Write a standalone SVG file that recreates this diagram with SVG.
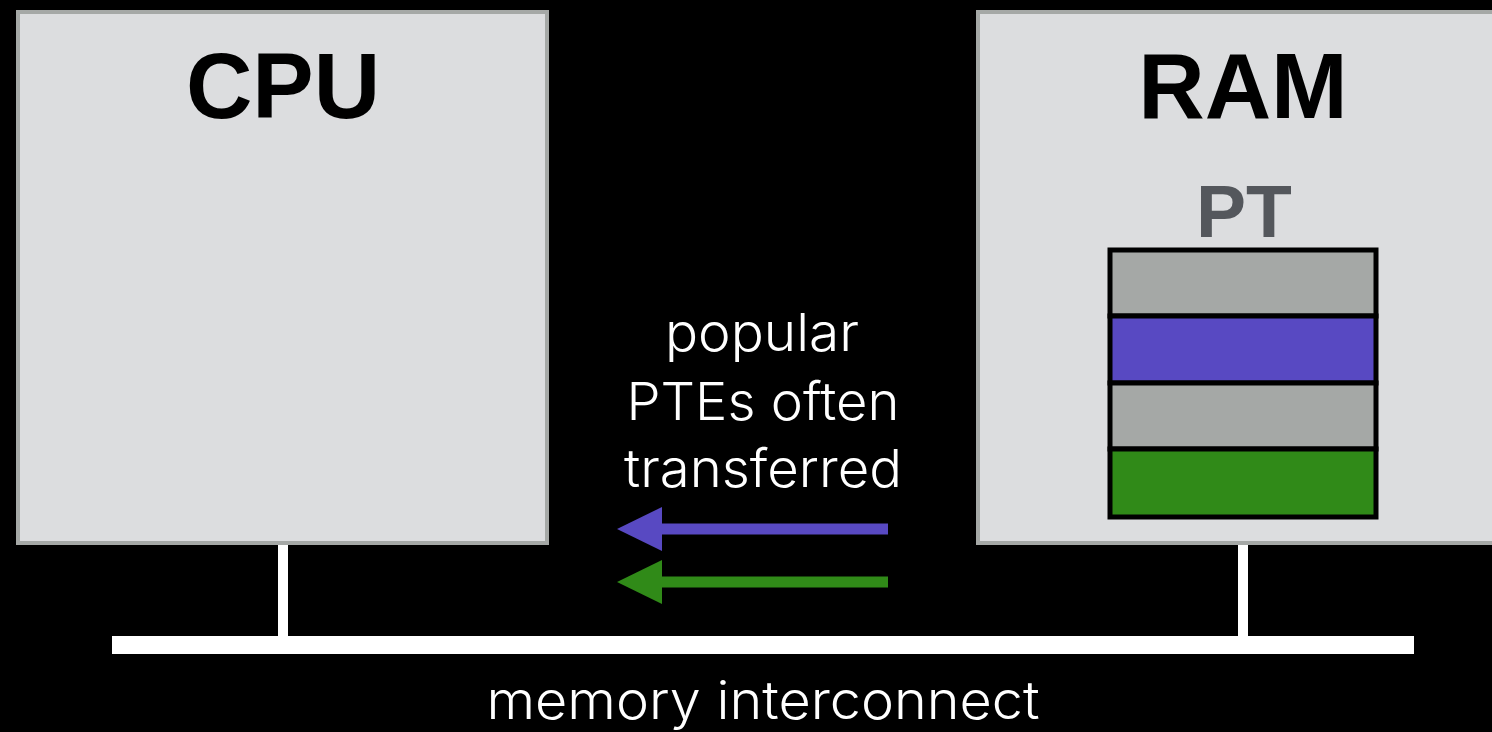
<svg xmlns="http://www.w3.org/2000/svg" width="1492" height="732" viewBox="0 0 1492 732">
  <style>
    .box { fill: #dcdddf; stroke: #a5a8a6; stroke-width: 4; }
    .title { font-family: "Liberation Sans", Arial, Helvetica, sans-serif; font-weight: bold; text-anchor: middle; }
    .label { font-family: Inter, "Liberation Sans", Arial, Helvetica, sans-serif; font-weight: 300; fill: #ffffff; text-anchor: middle; font-size: 52px; }
    .wire { stroke: #ffffff; stroke-width: 10; fill: none; }
    .pte { stroke: #000000; stroke-width: 5; }
    .gray { fill: #a5a8a6; }
    .purple { fill: #5849c2; }
    .green { fill: #308a18; }
  </style>
  <defs>
    <marker id="headPurple" markerUnits="userSpaceOnUse" markerWidth="45" markerHeight="44" viewBox="0 0 45 44" refX="0" refY="22" orient="auto">
      <path d="M0,0 L45,22 L0,44 z" fill="#5849c2"/>
    </marker>
    <marker id="headGreen" markerUnits="userSpaceOnUse" markerWidth="45" markerHeight="44" viewBox="0 0 45 44" refX="0" refY="22" orient="auto">
      <path d="M0,0 L45,22 L0,44 z" fill="#308a18"/>
    </marker>
  </defs>
  <rect x="0" y="0" width="1492" height="732" fill="#000000"/>

  <g id="cpu">
    <rect class="box" x="18" y="12" width="529" height="531"/>
    <text class="title" x="283" y="118" font-size="92" fill="#000000">CPU</text>
  </g>

  <g id="ram">
    <rect class="box" x="978" y="12" width="530" height="531"/>
    <text class="title" x="1243" y="118" font-size="92" fill="#000000">RAM</text>
  </g>

  <g id="pt">
    <text class="title" x="1244" y="237" font-size="75" fill="#54575c">PT</text>
    <rect class="pte gray" x="1110" y="250" width="266" height="66"/>
    <rect class="pte purple" x="1110" y="316" width="266" height="67"/>
    <rect class="pte gray" x="1110" y="383" width="266" height="66"/>
    <rect class="pte green" x="1110" y="449" width="266" height="68"/>
  </g>

  <g id="connectors">
    <line class="wire" x1="283" y1="545" x2="283" y2="640"/>
    <line class="wire" x1="1243" y1="545" x2="1243" y2="640"/>
    <rect x="112" y="636" width="1302" height="18" fill="#ffffff"/>
    <line x1="888" y1="529" x2="662" y2="529" stroke="#5849c2" stroke-width="11" marker-end="url(#headPurple)"/>
    <line x1="888" y1="582" x2="662" y2="582" stroke="#308a18" stroke-width="11" marker-end="url(#headGreen)"/>
  </g>

  <g id="transfer-label">
    <text class="label" x="762" y="351" textLength="194" lengthAdjust="spacingAndGlyphs">popular</text>
    <text class="label" x="763" y="420" textLength="273" lengthAdjust="spacingAndGlyphs">PTEs often</text>
    <text class="label" x="763" y="487" textLength="278" lengthAdjust="spacingAndGlyphs">transferred</text>
  </g>

  <g id="bus-label">
    <text class="label" x="763" y="719" textLength="553" lengthAdjust="spacingAndGlyphs">memory interconnect</text>
  </g>
</svg>
